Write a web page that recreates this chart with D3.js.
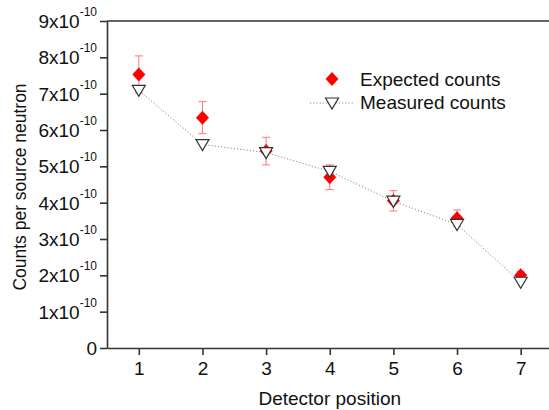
<!DOCTYPE html>
<html>
<head>
<meta charset="utf-8">
<script src="https://cdn.jsdelivr.net/npm/d3@7"></script>
<style>
  body { margin: 0; background: #fff; }
  svg { display: block; font-family: "Liberation Sans", Arial, sans-serif; }
</style>
</head>
<body>
<svg id="chart"></svg>
<script>
var width = 549;
var height = 410;

// detector positions 1..7, values in units of 1e-10
var positions = [1, 2, 3, 4, 5, 6, 7];
var expected = [7.53, 6.34, 5.42, 4.70, 4.05, 3.57, 2.00];
var expectedErr = [0.51, 0.44, 0.38, 0.34, 0.28, 0.23, 0.10];
var measured = [7.09, 5.60, 5.38, 4.86, 4.04, 3.40, 1.81];
var yTicks = [0, 1, 2, 3, 4, 5, 6, 7, 8, 9];

var svg = d3.select("#chart").attr("width", width).attr("height", height);

var x = d3.scaleLinear().domain([0.5, 7.5]).range([107, 552.5]);
var y = d3.scaleLinear().domain([0, 9]).range([348, 21]);

// axes
var xAxis = svg.append("g")
    .attr("transform", "translate(0," + y(0) + ")")
    .call(d3.axisBottom(x).tickValues(positions).tickSize(7).tickSizeOuter(0).tickFormat(d3.format("d")));
xAxis.selectAll("text").attr("dy", null).attr("y", 27).style("font-size", "19px").attr("fill", "#111");

var yAxis = svg.append("g")
    .attr("transform", "translate(" + x(0.5) + ",0)")
    .call(d3.axisLeft(y).tickValues(yTicks).tickSize(7).tickSizeOuter(0).tickFormat(""));

svg.selectAll(".domain, .tick line").attr("stroke", "#333").attr("stroke-width", 1.6);

// top frame line
svg.append("line")
    .attr("x1", x(0.5)).attr("x2", x(7.5))
    .attr("y1", y(9)).attr("y2", y(9))
    .attr("stroke", "#333").attr("stroke-width", 1.6);

// y tick labels with superscript exponent
yTicks.forEach(function (t) {
    var lbl = svg.append("text")
        .attr("x", 97)
        .attr("y", y(t) + 7)
        .attr("text-anchor", "end")
        .style("font-size", "19px")
        .attr("fill", "#111");
    if (t === 0) {
        lbl.text("0");
    } else {
        lbl.append("tspan").text(t + "x10");
        lbl.append("tspan").attr("dy", -12).style("font-size", "12px").text("-10");
    }
});

// axis titles
svg.append("text")
    .attr("x", (x(0.5) + x(7.5)) / 2)
    .attr("y", 405)
    .attr("text-anchor", "middle")
    .style("font-size", "19px")
    .attr("fill", "#111")
    .text("Detector position");

svg.append("text")
    .attr("transform", "translate(26,187) rotate(-90)")
    .attr("text-anchor", "middle")
    .style("font-size", "17.5px")
    .attr("fill", "#111")
    .text("Counts per source neutron");

// error bars
var errG = svg.append("g").attr("stroke", "#f77").attr("stroke-width", 1);
positions.forEach(function (p, i) {
    var top = y(expected[i] + expectedErr[i]);
    var bot = y(expected[i] - expectedErr[i]);
    errG.append("line").attr("x1", x(p)).attr("x2", x(p)).attr("y1", top).attr("y2", bot);
    errG.append("line").attr("x1", x(p) - 4).attr("x2", x(p) + 4).attr("y1", top).attr("y2", top);
    errG.append("line").attr("x1", x(p) - 4).attr("x2", x(p) + 4).attr("y1", bot).attr("y2", bot);
});

var diamond = "M0,-7L6.5,0L0,7L-6.5,0Z";
var triangle = "M-6.5,-5L6.5,-5L0,6Z";

// expected markers
svg.append("g").selectAll("path")
    .data(positions)
    .enter().append("path")
    .attr("d", diamond)
    .attr("fill", "#ff0000")
    .attr("transform", function (d, i) { return "translate(" + x(d) + "," + y(expected[i]) + ")"; });

// measured dotted line
var line = d3.line()
    .x(function (d) { return x(d); })
    .y(function (d, i) { return y(measured[i]); });

svg.append("path")
    .datum(positions)
    .attr("d", line)
    .attr("fill", "none")
    .attr("stroke", "#888")
    .attr("stroke-width", 1)
    .attr("stroke-dasharray", "1.2,2");

// measured markers
svg.append("g").selectAll("path")
    .data(positions)
    .enter().append("path")
    .attr("d", triangle)
    .attr("fill", "#fff")
    .attr("stroke", "#333")
    .attr("stroke-width", 1.2)
    .attr("transform", function (d, i) { return "translate(" + x(d) + "," + y(measured[i]) + ")"; });

// legend
var legend = svg.append("g");
legend.append("path").attr("d", diamond).attr("fill", "#ff0000")
    .attr("transform", "translate(332,79)");
legend.append("text").attr("x", 360).attr("y", 85.5)
    .style("font-size", "19px").attr("fill", "#111").text("Expected counts");
legend.append("line").attr("x1", 310).attr("x2", 354).attr("y1", 103).attr("y2", 103)
    .attr("stroke", "#888").attr("stroke-width", 1).attr("stroke-dasharray", "1.2,2");
legend.append("path").attr("d", triangle).attr("fill", "#fff")
    .attr("stroke", "#333").attr("stroke-width", 1.2)
    .attr("transform", "translate(332,103)");
legend.append("text").attr("x", 360).attr("y", 108.5)
    .style("font-size", "19px").attr("fill", "#111").text("Measured counts");
</script>
</body>
</html>
